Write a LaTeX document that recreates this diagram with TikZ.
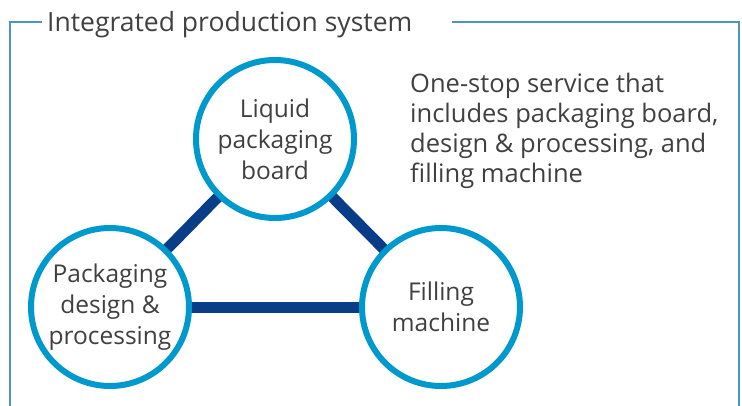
\documentclass[tikz,border=0pt]{standalone}
\usepackage{fontspec}
\setmainfont{Open Sans}
\usepackage{tikz}
\usetikzlibrary{backgrounds}

\definecolor{ringblue}{RGB}{0,153,206}
\definecolor{linkblue}{RGB}{10,61,135}
\definecolor{framegray}{RGB}{74,150,190}
\definecolor{textgray}{RGB}{64,64,64}

\tikzset{
  part/.style={circle, draw=ringblue, line width=6pt, fill=white,
    minimum size=158pt, inner sep=0pt, align=center, text=textgray,
    font=\fontsize{24.5}{31}\selectfont},
  link/.style={draw=linkblue, line width=11pt},
  frame/.style={draw=framegray, line width=1.6pt}
}

\begin{document}
\begin{tikzpicture}[x=1pt, y=-1pt]
  \useasboundingbox (0,0) rectangle (742,406);

  % Frame and title
  \node[anchor=base west, text=textgray, inner sep=0pt,
        font=\fontsize{26.5}{30}\selectfont] (title) at (47,31.5) {Integrated production system};
  \draw[frame] (10,406) -- (10,22) -- (42,22);
  \draw[frame] (452,22) -- (739,22) -- (739,406);

  % The three parts
  \node[part] (board) at (275,139) {Liquid\\packaging\\board};
  \node[part] (design) at (110,307) {Packaging\\design \&\\processing};
  \node[part] (filling) at (441,307) {Filling\\machine};

  % Links behind the parts
  \begin{pgfonlayer}{background}
    \draw[link] (board.center) -- (design.center);
    \draw[link] (board.center) -- (filling.center);
    \draw[link] (design.center) -- (filling.center);
  \end{pgfonlayer}

  % Note
  \node[anchor=north west, align=left, text=textgray, inner sep=0pt,
        font=\fontsize{25.5}{30}\selectfont] (note) at (410,73)
        {One-stop service that\\includes packaging board,\\design \& processing, and\\filling machine};
\end{tikzpicture}
\end{document}
